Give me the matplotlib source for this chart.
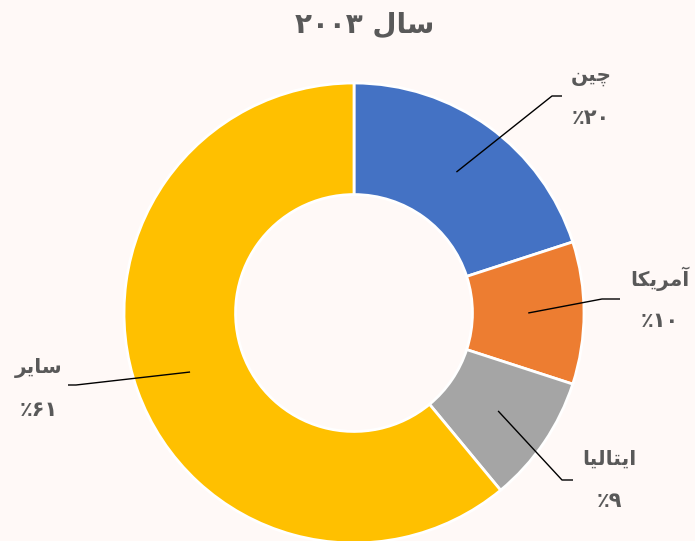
import numpy as np
import matplotlib
matplotlib.use("Agg")
import matplotlib.pyplot as plt

# data
title_year = 2003
names = ["چین", "آمریکا", "ایتالیا", "سایر"]
shares = [20, 10, 9, 61]
colors = ["#4472C4", "#ED7D31", "#A5A5A5", "#FFC000"]

# label anchors in image pixels (from top-left): leader end, text centre
line_ends = [(562, 96), (620, 299), (573, 480), (68, 385)]
text_pos = [(591, 97), (660, 300), (609, 480), (39, 389)]
bend = [10, 18, 11, 8]

# matplotlib has no Arabic shaping -> pick presentation forms by hand
FORMS = {  # isolated, final, initial, medial
    'ا': ('\uFE8D', '\uFE8E', None, None),
    'آ': ('\uFE81', '\uFE82', None, None),
    'ر': ('\uFEAD', '\uFEAE', None, None),
    'ل': ('\uFEDD', '\uFEDE', '\uFEDF', '\uFEE0'),
    'س': ('\uFEB1', '\uFEB2', '\uFEB3', '\uFEB4'),
    'ن': ('\uFEE5', '\uFEE6', '\uFEE7', '\uFEE8'),
    'م': ('\uFEE1', '\uFEE2', '\uFEE3', '\uFEE4'),
    'ت': ('\uFE95', '\uFE96', '\uFE97', '\uFE98'),
    'ی': ('\uFBFC', '\uFBFD', '\uFBFE', '\uFBFF'),
    'ک': ('\uFB8E', '\uFB8F', '\uFB90', '\uFB91'),
    'چ': ('\uFB7A', '\uFB7B', '\uFB7C', '\uFB7D'),
}


def rtl(word):
    out = []
    for i, ch in enumerate(word):
        f = FORMS[ch]
        p = i > 0 and FORMS[word[i - 1]][2] is not None
        n = f[2] is not None and i + 1 < len(word) and word[i + 1] in FORMS
        if p and n:
            out.append(f[3])
        elif p:
            out.append(f[1])
        elif n:
            out.append(f[2])
        else:
            out.append(f[0])
    return "".join(out[::-1])


def fa_num(v):
    return "".join(chr(0x06F0 + int(d)) for d in str(v))


W, H = 695, 541
fig = plt.figure(figsize=(W / 100, H / 100), dpi=100, facecolor="#FFF9F7")
ax = fig.add_axes([0, 0, 1, 1])

cx, cy, R = 354, H - 313, 230
hole = 0.485
wedges, _ = ax.pie(shares, colors=colors, startangle=90, counterclock=False,
                   radius=R, center=(cx, cy),
                   wedgeprops=dict(width=R * hole, edgecolor="white", linewidth=2))
ax.set_xlim(0, W)
ax.set_ylim(0, H)
ax.set_aspect("equal")
ax.axis("off")

rm = R * (1 - hole / 2)
for i, w in enumerate(wedges):
    ang = np.deg2rad((w.theta1 + w.theta2) / 2)
    x0, y0 = cx + rm * np.cos(ang), cy + rm * np.sin(ang)
    xe, ye = line_ends[i][0], H - line_ends[i][1]
    xb = xe - bend[i] if xe > cx else xe + bend[i]
    ax.plot([x0, xb, xe], [y0, ye, ye], color="black", lw=1, solid_capstyle="butt")
    tx, ty = text_pos[i][0], H - text_pos[i][1]
    ax.text(tx, ty + 21, rtl(names[i]), ha="center", va="center",
            fontsize=14.5, fontweight="bold", color="#595959")
    ax.text(tx, ty - 21, "\u066A" + fa_num(shares[i]), ha="center", va="center",
            fontsize=15, fontweight="bold", color="#595959")

ax.text(365, H - 25, fa_num(title_year) + " " + rtl("سال"), ha="center", va="center",
        fontsize=20, fontweight="bold", color="#595959")

fig.savefig("out.png", dpi=100, facecolor=fig.get_facecolor())
